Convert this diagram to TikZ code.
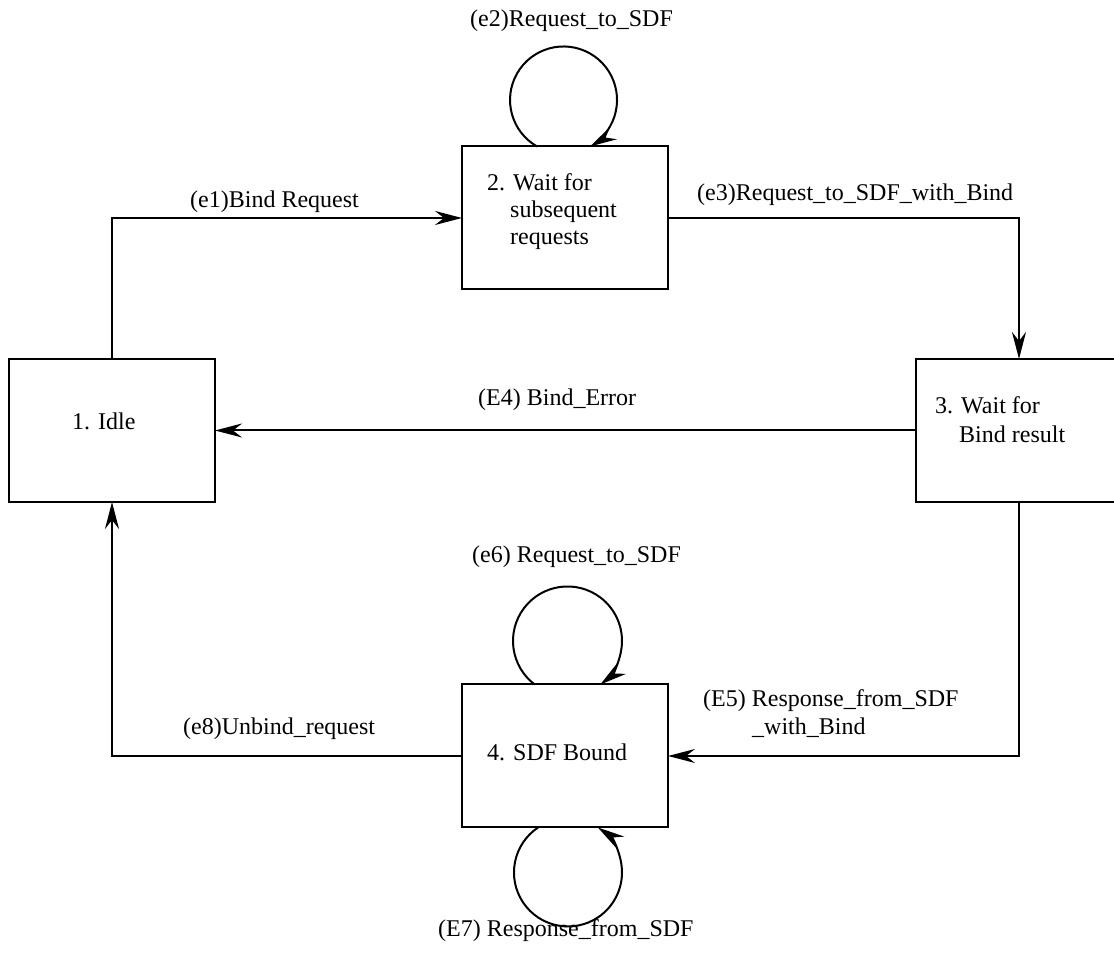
\documentclass[tikz,border=0pt]{standalone}
\usepackage{fontspec}
\setmainfont{Liberation Serif}
\usetikzlibrary{arrows.meta}
\begin{document}
\begin{tikzpicture}[x=1pt,y=1pt,
  state/.style={draw, line width=2pt, rectangle, minimum width=206pt,
    minimum height=143pt, inner sep=0pt, outer sep=0pt},
  txt/.style={anchor=base west, inner sep=0pt,
    font=\fontsize{24}{27}\selectfont},
  flow/.style={line width=2pt,
    -{Stealth[length=27pt,width=14pt,inset=9pt]}},
]
\useasboundingbox (0,0) rectangle (1114,955);
\clip (0,0) rectangle (1114,955);

% states
\node[state] (idle)  at (112,524.5) {};
\node[state] (wait)  at (565,737)   {};
\node[state] (bind)  at (1019,524.5) {};
\node[state] (bound) at (565,199)   {};

% state names
\node[txt] (idleT)   at (72,525)  {1. Idle};
\node[txt] (waitT1)  at (487,764) {2. Wait for};
\node[txt] (waitT2)  at (510,737) {subsequent};
\node[txt] (waitT3)  at (510,710) {requests};
\node[txt] (bindT1)  at (935,541) {3. Wait for};
\node[txt] (bindT2)  at (959,512) {Bind result};
\node[txt] (boundT)  at (487,194) {4. SDF Bound};

% transitions
\draw[flow] (idle.north) |- (wait.west);
\draw[flow] (wait.east) -| (bind.north);
\draw[flow] (bind.west) -- (idle.east);
\draw[flow] (bind.south) |- (bound.east);
\draw[flow] (bound.west) -| (idle.south);

% self loops
\draw[flow] ([xshift=-27.9pt]wait.north)
  arc[start angle=240.4, end angle=-60.4, radius=53.5];
\draw[flow] ([xshift=-30.3pt]bound.north)
  arc[start angle=233, end angle=-53, radius=54.5];
\draw[flow] ([xshift=-26.9pt]bound.south)
  arc[start angle=123.6, end angle=416.4, radius=54];

% transition labels
\node[txt] (e2) at (470,928) {(e2)Request\_to\_SDF};
\node[txt] (e1) at (190,747) {(e1)Bind Request};
\node[txt] (e3) at (697,754) {(e3)Request\_to\_SDF\_with\_Bind};
\node[txt] (e4) at (478,549) {(E4) Bind\_Error};
\node[txt] (e6) at (472,392) {(e6) Request\_to\_SDF};
\node[txt] (e5a) at (703,248) {(E5) Response\_from\_SDF};
\node[txt] (e5b) at (752,220) {\_with\_Bind};
\node[txt] (e8) at (183,220) {(e8)Unbind\_request};
\node[txt] (e7) at (438,18) {(E7) Response\_from\_SDF};
\end{tikzpicture}
\end{document}
